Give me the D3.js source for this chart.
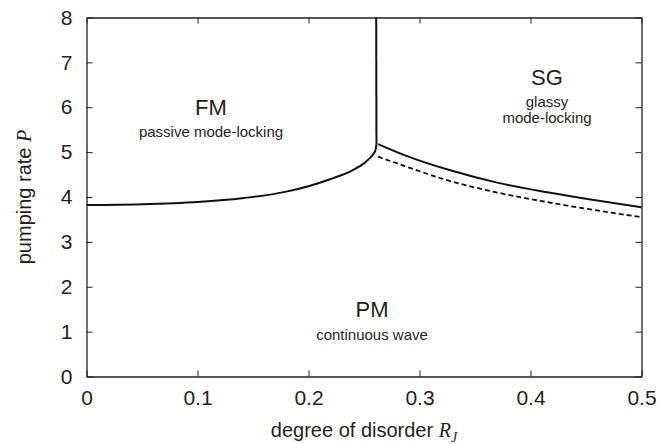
<!DOCTYPE html>
<html>
<head>
<meta charset="utf-8">
<script src="https://cdn.jsdelivr.net/npm/d3@7"></script>
<style>
html,body{margin:0;padding:0;background:#fff;}
svg{display:block;}
text{font-family:"Liberation Sans",Arial,Helvetica,sans-serif;fill:#231f20;}
</style>
</head>
<body>
<svg id="chart" width="661" height="444"></svg>
<script>
// ---- data ----
const xTicks = [0, 0.1, 0.2, 0.3, 0.4, 0.5];
const xTickLabels = ["0", "0.1", "0.2", "0.3", "0.4", "0.5"];
const yTicks = [0, 1, 2, 3, 4, 5, 6, 7, 8];
const yTickLabels = ["0", "1", "2", "3", "4", "5", "6", "7", "8"];
// FM–PM boundary (solid)
const fmR = [0, 0.05, 0.1, 0.14, 0.18, 0.2, 0.22, 0.24, 0.25, 0.255, 0.2585, 0.2605, 0.2612];
const fmP = [3.82, 3.84, 3.89, 3.97, 4.12, 4.24, 4.40, 4.60, 4.75, 4.86, 4.96, 5.06, 5.18];
// FM–SG boundary (vertical, solid)
const vertR = [0.2612, 0.2610];
const vertP = [5.18, 8];
// SG–PM boundary (solid)
const sgR = [0.2626, 0.29, 0.327, 0.37, 0.4165, 0.46, 0.5];
const sgP = [5.18, 4.90, 4.60, 4.32, 4.10, 3.92, 3.77];
// dashed line
const dashR = [0.2626, 0.29, 0.327, 0.37, 0.4165, 0.46, 0.5];
const dashP = [4.90, 4.66, 4.36, 4.10, 3.88, 3.70, 3.55];
// region labels
const regionNames = ["FM", "SG", "PM"];

// ---- drawing ----
const svg = d3.select("#chart");
const L = 86.5, R = 641.5, T = 17.5, B = 376.5;
const x = d3.scaleLinear().domain([0, 0.5]).range([L, R]);
const y = d3.scaleLinear().domain([0, 8]).range([B, T]);

const tk = 6;
const gB = svg.append("g").attr("transform", `translate(0,${B})`)
  .call(d3.axisBottom(x).tickValues(xTicks).tickFormat((d,i)=>xTickLabels[i]).tickSizeInner(-tk).tickSizeOuter(0).tickPadding(14));
const gT = svg.append("g").attr("transform", `translate(0,${T})`)
  .call(d3.axisTop(x).tickValues(xTicks).tickFormat("").tickSizeInner(-tk).tickSizeOuter(0));
const gL = svg.append("g").attr("transform", `translate(${L},0)`)
  .call(d3.axisLeft(y).tickValues(yTicks).tickFormat((d,i)=>yTickLabels[i]).tickSizeInner(-tk).tickSizeOuter(0).tickPadding(14));
const gR = svg.append("g").attr("transform", `translate(${R},0)`)
  .call(d3.axisRight(y).tickValues(yTicks).tickFormat("").tickSizeInner(-tk).tickSizeOuter(0));
[gB,gT,gL,gR].forEach(g=>{
  g.select(".domain").attr("stroke","#231f20").attr("stroke-width",1.3);
  g.selectAll(".tick line").attr("stroke","#231f20").attr("stroke-width",1);
  g.selectAll(".tick text").attr("font-size",21).attr("font-family","'Liberation Sans',Arial,sans-serif").attr("fill","#231f20");
});

const line = d3.line().x(d=>x(d[0])).y(d=>y(d[1])).curve(d3.curveMonotoneX);
const zip = (a,b)=>a.map((v,i)=>[v,b[i]]);
const curveG = svg.append("g").attr("fill","none").attr("stroke","#111");
curveG.append("path").attr("d", line(zip(fmR,fmP))).attr("stroke-width",2);
curveG.append("path").attr("d", d3.line().x(d=>x(d[0])).y(d=>y(d[1]))(zip(vertR,vertP))).attr("stroke-width",2);
curveG.append("path").attr("d", line(zip(sgR,sgP))).attr("stroke-width",2);
curveG.append("path").attr("d", line(zip(dashR,dashP))).attr("stroke-width",1.8).attr("stroke-dasharray","5,3");

// region labels
const lab = svg.append("g").attr("text-anchor","middle");
lab.append("text").attr("x",211).attr("y",115).attr("font-size",22).text(regionNames[0]);
lab.append("text").attr("x",211).attr("y",137).attr("font-size",15).text("passive mode-locking");
lab.append("text").attr("x",547).attr("y",85).attr("font-size",22).text(regionNames[1]);
lab.append("text").attr("x",547).attr("y",107).attr("font-size",15).text("glassy");
lab.append("text").attr("x",547).attr("y",123).attr("font-size",15).text("mode-locking");
lab.append("text").attr("x",372).attr("y",317).attr("font-size",22).text(regionNames[2]);
lab.append("text").attr("x",372).attr("y",340).attr("font-size",15).text("continuous wave");

// axis titles
const xl = svg.append("text").attr("x",(L+R)/2).attr("y",437).attr("text-anchor","middle").attr("font-size",20);
xl.append("tspan").text("degree of disorder ");
xl.append("tspan").attr("font-family","'Liberation Serif','Times New Roman',serif").attr("font-style","italic").text("R");
xl.append("tspan").attr("font-family","'Liberation Serif','Times New Roman',serif").attr("font-style","italic").attr("font-size",14).attr("dy",5).text("J");

const yl = svg.append("text").attr("transform",`translate(31,${(T+B)/2}) rotate(-90)`).attr("text-anchor","middle").attr("font-size",20);
yl.append("tspan").text("pumping rate ");
yl.append("tspan").attr("font-family","'Liberation Serif','Times New Roman',serif").attr("font-style","italic").text("P");
</script>
</body>
</html>
